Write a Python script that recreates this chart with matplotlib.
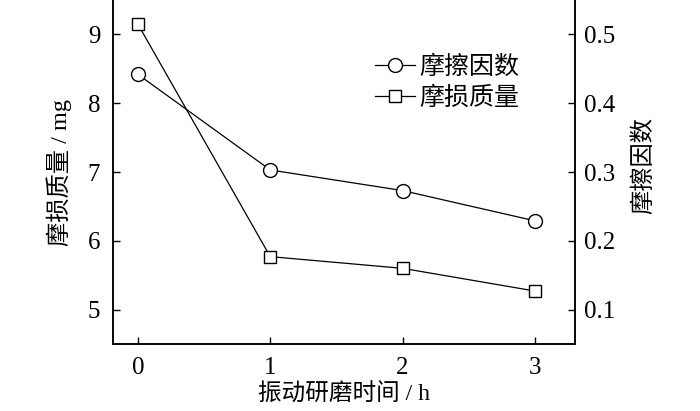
"""
Wear mass and friction coefficient vs. vibration grinding time (dual y axes).
"""
import matplotlib
matplotlib.use("Agg")
import matplotlib.pyplot as plt
from matplotlib.lines import Line2D

plt.rcParams["font.family"] = ["Liberation Serif", "Noto Sans CJK SC"]
plt.rcParams["font.size"] = 17

# data
hours = [0, 1, 2, 3]
wear_mass = [9.15, 5.77, 5.60, 5.27]        # mg, left axis (squares)
friction = [0.442, 0.303, 0.273, 0.229]     # right axis (circles)
x_ticks = [0, 1, 2, 3]
left_ticks = [5, 6, 7, 8, 9]
right_ticks = [0.1, 0.2, 0.3, 0.4, 0.5]


def main():
    fig = plt.figure(figsize=(7.0, 4.11), dpi=100)
    ax = fig.add_axes([0.161, 0.163, 0.660, 0.837])
    ax2 = ax.twinx()

    ax.plot(hours, wear_mass, "k-", lw=0.9, marker="s", ms=8,
            mfc="white", mec="black", mew=1.0, zorder=3)
    ax2.plot(hours, friction, "k-", lw=0.9, marker="o", ms=10,
             mfc="white", mec="black", mew=1.0, zorder=3)

    ax.set_xlim(-0.19, 3.3)
    ax.set_ylim(4.5, 9.5)
    ax2.set_ylim(0.05, 0.55)
    ax.set_xticks(x_ticks)
    ax.set_yticks(left_ticks)
    ax2.set_yticks(right_ticks)
    ax2.set_yticklabels([f"{v:.1f}" for v in right_ticks])

    for a in (ax, ax2):
        a.spines["top"].set_visible(False)
        for s in a.spines.values():
            s.set_linewidth(1.1)
    ax.tick_params(axis="x", direction="in", length=5, width=1.0, pad=9, labelsize=18)
    ax.tick_params(axis="y", direction="in", length=5, width=1.0, pad=9, labelsize=18)
    ax2.tick_params(axis="y", direction="in", length=5, width=1.0, pad=7, labelsize=18)

    ax.set_xlabel("振动研磨时间 / h", labelpad=4)
    ax.set_ylabel("摩损质量 / mg", fontsize=17.5)
    ax.yaxis.set_label_coords(-0.088, 0.5)
    ax2.set_ylabel("摩擦因数", fontsize=17.5)
    ax2.yaxis.set_label_coords(1.125, 0.52)

    handles = [
        Line2D([], [], color="k", lw=0.9, marker="o", ms=10, mfc="white", mec="black"),
        Line2D([], [], color="k", lw=0.9, marker="s", ms=8, mfc="white", mec="black"),
    ]
    ax2.legend(handles, ["摩擦因数", "摩损质量"], frameon=False, fontsize=18,
               loc="upper left", bbox_to_anchor=(0.567, 0.84),
               handlelength=1.6, handletextpad=0.2, labelspacing=0.33,
               borderpad=0.0, borderaxespad=0.0)

    fig.savefig("out.png", dpi=100)
    plt.close(fig)


if __name__ == "__main__":
    main()
